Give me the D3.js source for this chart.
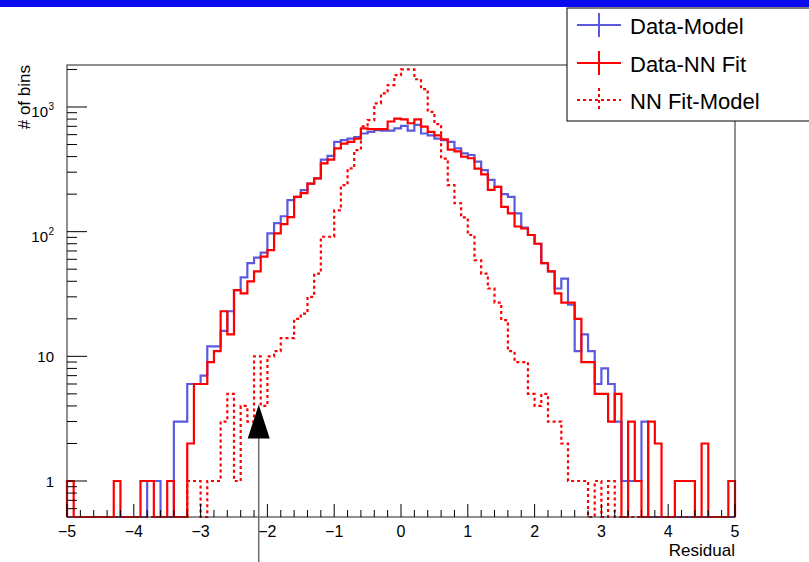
<!DOCTYPE html>
<html>
<head>
<meta charset="utf-8">
<script src="https://cdn.jsdelivr.net/npm/d3@7"></script>
<style>
  body { margin: 0; background: #fff; }
  svg { display: block; }
  text { font-family: "Liberation Sans", Arial, Helvetica, sans-serif; fill: #000; }
</style>
</head>
<body>
<svg width="809" height="562"></svg>
<script>
const width = 809, height = 562;
const svg = d3.select("svg");

// 100 bins of width 0.1 between -5 and 5
const xMin = -5, xMax = 5, nBins = 100;

// bin contents (bin 0 = [-5,-4.9) ... bin 99 = [4.9,5))
const dataModel = [
  0, 0, 0, 0, 0, 0, 0, 0, 0, 0,
  0, 0, 1, 1, 0, 0, 3, 3, 6, 6,
  7, 12, 12, 16, 23, 34, 43, 56, 62, 68,
  97, 117, 133, 179, 190, 215, 243, 268, 378, 405,
  525, 543, 558, 574, 613, 632, 653, 646, 646, 675,
  705, 646, 720, 613, 593, 558, 543, 525, 466, 425,
  412, 365, 312, 260, 229, 200, 190, 140, 108, 94,
  80, 56, 48, 35, 42, 26, 11, 15, 11, 6,
  8, 6, 3, 1, 1, 1, 3, 0, 0, 0,
  0, 0, 0, 0, 0, 0, 0, 0, 0, 0
];
const dataNNFit = [
  1, 0, 0, 0, 0, 0, 0, 1, 0, 0,
  0, 1, 1, 0, 0, 1, 0, 0, 2, 6,
  6, 9, 11, 23, 15, 34, 32, 40, 48, 63,
  71, 97, 115, 131, 190, 204, 243, 268, 353, 378,
  466, 509, 525, 558, 675, 665, 665, 665, 765, 806,
  795, 741, 795, 696, 632, 593, 550, 455, 440, 399,
  388, 320, 288, 216, 229, 158, 140, 110, 106, 94,
  80, 56, 48, 32, 27, 27, 20, 9, 9, 5,
  5, 3, 5, 0, 3, 1, 0, 3, 2, 0,
  0, 1, 1, 1, 0, 2, 0, 0, 0, 1
];
const nnFitModel = [
  0, 0, 0, 0, 0, 0, 0, 0, 0, 0,
  0, 0, 0, 0, 0, 0, 0, 0, 1, 1,
  0, 1, 1, 3, 5, 1, 4, 3, 10, 4,
  10, 11, 14, 14, 20, 22, 30, 46, 91, 91,
  148, 236, 322, 451, 700, 785, 1069, 1285, 1500, 1800,
  2000, 2000, 1670, 1390, 915, 730, 386, 236, 169, 130,
  94, 59, 46, 35, 27, 19.5, 11, 9, 9, 5,
  4, 5, 3, 3, 2, 1, 1, 1, 0, 1,
  0, 1, 0, 0, 0, 0, 0, 0, 0, 0,
  0, 0, 0, 0, 0, 0, 0, 0, 0, 0
];

const xTicks = [-5, -4, -3, -2, -1, 0, 1, 2, 3, 4, 5];
const yTicks = [1, 10, 100, 1000];
const yTickExp = ["", "", "2", "3"];   // superscripts for 10^n labels
const seriesNames = ["Data-Model", "Data-NN Fit", "NN Fit-Model"];

// arrow marker (x position and tip value)
const arrowX = -2.13, arrowTip = 4.1, arrowEnd = 0.224;

const blue = "#5a5ade", red = "#ff0000";

// frame
const fLeft = 67, fRight = 735, fTop = 65, fBottom = 517;
const yMinVal = 0.5144, yMaxVal = 2172;

const x = d3.scaleLinear().domain([xMin, xMax]).range([fLeft, fRight]);
const y = d3.scaleLog().domain([yMinVal, yMaxVal]).range([fBottom, fTop]);

const binW = (xMax - xMin) / nBins;

function stepPath(values) {
  const pts = [[x(xMin), fBottom]];
  values.forEach((v, i) => {
    const yy = v > yMinVal ? y(v) : fBottom;
    pts.push([x(xMin + i * binW), yy]);
    pts.push([x(xMin + (i + 1) * binW), yy]);
  });
  pts.push([x(xMax), fBottom]);
  return d3.line()(pts);
}

// top blue strip
svg.append("rect").attr("x", 0).attr("y", 0).attr("width", width).attr("height", 7)
  .attr("fill", "#0a0aee");

// histograms
svg.append("path").attr("d", stepPath(dataModel))
  .attr("fill", "none").attr("stroke", blue).attr("stroke-width", 2.2);
svg.append("path").attr("d", stepPath(dataNNFit))
  .attr("fill", "none").attr("stroke", red).attr("stroke-width", 2.2);
svg.append("path").attr("d", stepPath(nnFitModel))
  .attr("fill", "none").attr("stroke", red).attr("stroke-width", 2.2)
  .attr("stroke-dasharray", "3,3");

// frame box
svg.append("rect").attr("x", fLeft).attr("y", fTop)
  .attr("width", fRight - fLeft).attr("height", fBottom - fTop)
  .attr("fill", "none").attr("stroke", "#222").attr("stroke-width", 1);

// x axis ticks (inside, pointing up)
const xMinor = d3.range(xMin, xMax + 0.001, 0.2);
svg.append("g").selectAll("line").data(xMinor).enter().append("line")
  .attr("x1", d => x(d)).attr("x2", d => x(d))
  .attr("y1", fBottom).attr("y2", d => Math.abs(d - Math.round(d)) < 1e-6 ? fBottom - 13 : fBottom - 7)
  .attr("stroke", "#000").attr("stroke-width", 1);
svg.append("g").selectAll("text").data(xTicks).enter().append("text")
  .attr("x", d => x(d)).attr("y", 537)
  .attr("text-anchor", "middle").style("font-size", "16px")
  .text(d => d < 0 ? "\u2212" + Math.abs(d) : d);

// y axis ticks (log, inside)
const yMinor = [];
[0.1, 1, 10, 100, 1000].forEach(dec => {
  for (let m = 1; m <= 9; m++) {
    const v = dec * m;
    if (v >= yMinVal && v <= yMaxVal) yMinor.push({ v, major: m === 1 });
  }
});
svg.append("g").selectAll("line").data(yMinor).enter().append("line")
  .attr("x1", fLeft).attr("x2", d => d.major ? fLeft + 20 : fLeft + 10)
  .attr("y1", d => y(d.v)).attr("y2", d => y(d.v))
  .attr("stroke", "#000").attr("stroke-width", 1);

// y labels: plain ones right-aligned at 54, 10^n ones with the base ending at 48
const yLab = svg.append("g").selectAll("g").data(yTicks).enter().append("g");
yLab.append("text")
  .attr("x", (d, i) => yTickExp[i] ? 48 : 54)
  .attr("y", (d, i) => y(d) + (yTickExp[i] ? 10 : 5.5))
  .attr("text-anchor", "end").style("font-size", "15px")
  .text((d, i) => yTickExp[i] ? "10" : String(d));
yLab.append("text")
  .attr("x", 48.5)
  .attr("y", (d, i) => y(d) + 3)
  .style("font-size", "10px")
  .text((d, i) => yTickExp[i]);

// axis titles
svg.append("text").attr("x", fRight).attr("y", 556)
  .attr("text-anchor", "end").style("font-size", "17px").text("Residual");
svg.append("text").attr("transform", `translate(30,${fTop}) rotate(-90)`)
  .attr("text-anchor", "end").style("font-size", "17px").text("# of bins");

// arrow
const ax = x(arrowX), ay = y(arrowTip);
svg.append("line").attr("x1", ax).attr("x2", ax)
  .attr("y1", y(arrowEnd)).attr("y2", ay + 20)
  .attr("stroke", "#6e6e6e").attr("stroke-width", 1.5);
svg.append("path")
  .attr("d", `M${ax},${ay} L${ax - 11},${ay + 34} L${ax + 11},${ay + 34} Z`)
  .attr("fill", "#000");

// legend
const legend = svg.append("g");
legend.append("rect").attr("x", 567).attr("y", 8).attr("width", 260).attr("height", 113)
  .attr("fill", "#fff").attr("stroke", "#000").attr("stroke-width", 1);
const rowY = [25, 63, 100];
const rowColor = [blue, red, red];
const rowDash = [null, null, "3,3"];
seriesNames.forEach((name, i) => {
  const g = legend.append("g");
  g.append("line").attr("x1", 577).attr("x2", 621).attr("y1", rowY[i]).attr("y2", rowY[i])
    .attr("stroke", rowColor[i]).attr("stroke-width", 2).attr("stroke-dasharray", rowDash[i]);
  g.append("line").attr("x1", 599).attr("x2", 599).attr("y1", rowY[i] - 12).attr("y2", rowY[i] + 12)
    .attr("stroke", rowColor[i]).attr("stroke-width", 2).attr("stroke-dasharray", rowDash[i]);
  g.append("text").attr("x", 630).attr("y", rowY[i] + 9)
    .style("font-size", "22px").text(name);
});
</script>
</body>
</html>
